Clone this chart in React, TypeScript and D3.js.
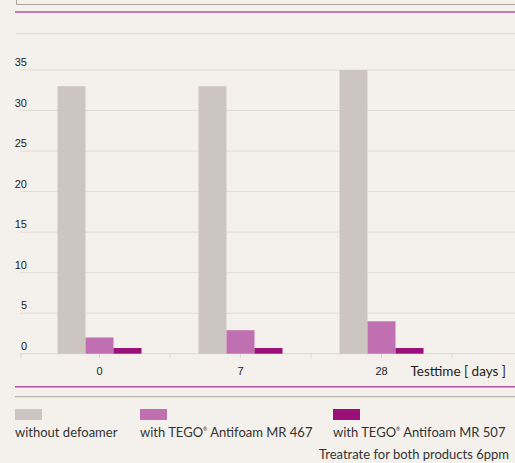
import React, { useEffect, useRef } from 'react';
import * as d3 from 'd3';

const categories = ['0', '7', '28'];
const seriesNames = ['without defoamer', 'with TEGO', 'with TEGO'];
const seriesSuffix = ['', ' Antifoam MR 467', ' Antifoam MR 507'];
const withoutDefoamer = [33, 33, 35];
const mr467 = [2, 2.9, 4];
const mr507 = [0.7, 0.7, 0.7];
const yTicks = [0, 5, 10, 15, 20, 25, 30, 35];
const colors = ['#cdc6c0', '#c070b0', '#9a1078'];

const App: React.FC = () => {
  const svgRef = useRef<SVGSVGElement>(null);

  useEffect(() => {
    if (!svgRef.current) return;
    const svg = d3.select(svgRef.current);
    svg.selectAll('*').remove();
    const W = 515, H = 463;
    const bg = '#f4f1ec';
    svg.append('rect').attr('width', W).attr('height', H).attr('fill', bg);

    const labelFont = '"Liberation Sans", Arial, sans-serif';
    const textFont = 'Lato, "Open Sans", sans-serif';

    // top frame + rules
    svg.append('path').attr('d', 'M16.5,0 V4.5 H515').attr('fill', 'none').attr('stroke', '#aaa39b').attr('stroke-width', 1);
    svg.append('line').attr('x1', 15).attr('x2', W).attr('y1', 12).attr('y2', 12).attr('stroke', '#b84fa5').attr('stroke-width', 1.6);
    svg.append('line').attr('x1', 16).attr('x2', W).attr('y1', 33.7).attr('y2', 33.7).attr('stroke', '#e3e0db').attr('stroke-width', 1.5);

    const y = d3.scaleLinear().domain([0, 35]).range([353.7, 70]);
    const x = d3.scaleBand().domain([...categories, '']).range([29, 593]).paddingInner(0).paddingOuter(0);
    const inner = d3.scaleBand().domain(['0', '1', '2']).range([0, 84]);
    const offset = (x.bandwidth() - 84) / 2;

    // grid
    yTicks.forEach(t => {
      svg.append('line').attr('x1', 20).attr('x2', W).attr('y1', y(t)).attr('y2', y(t))
        .attr('stroke', t === 0 ? '#dcd8d2' : '#e0ddd8').attr('stroke-width', 1);
      svg.append('text').attr('x', 27).attr('y', y(t) - 4).attr('text-anchor', 'end')
        .attr('font-family', labelFont).attr('font-size', 11).attr('fill', '#222').text(t);
    });

    // bars
    const series = [withoutDefoamer, mr467, mr507];
    series.forEach((vals, si) => {
      vals.forEach((v, ci) => {
        const x0 = (x(categories[ci]) ?? 0) + offset + (inner(String(si)) ?? 0);
        svg.append('rect').attr('x', x0).attr('width', inner.bandwidth())
          .attr('y', y(v)).attr('height', y(0) - y(v)).attr('fill', colors[si]);
      });
    });

    // x ticks
    const tickXs = [21, ...categories.map(c => (x(c) ?? 0) + x.bandwidth()), ...categories.map(c => (x(c) ?? 0) + x.bandwidth() / 2)];
    tickXs.forEach(tx => {
      svg.append('line').attr('x1', tx).attr('x2', tx).attr('y1', 354).attr('y2', 358)
        .attr('stroke', '#dcd8d2').attr('stroke-width', 1);
    });
    categories.forEach(c => {
      svg.append('text').attr('x', (x(c) ?? 0) + x.bandwidth() / 2).attr('y', 375).attr('text-anchor', 'middle')
        .attr('font-family', labelFont).attr('font-size', 11).attr('fill', '#222').text(c);
    });
    svg.append('text').attr('x', 506).attr('y', 376).attr('text-anchor', 'end')
      .attr('font-family', textFont).attr('font-size', 13.5).attr('fill', '#222').text('Testtime [ days ]');

    // bottom rules
    svg.append('line').attr('x1', 15).attr('x2', W).attr('y1', 386.7).attr('y2', 386.7).attr('stroke', '#b84fa5').attr('stroke-width', 1.6);
    svg.append('line').attr('x1', 15).attr('x2', W).attr('y1', 396.7).attr('y2', 396.7).attr('stroke', '#aaa39b').attr('stroke-width', 1);

    // legend
    const legX = [15, 140, 333];
    seriesNames.forEach((name, i) => {
      svg.append('rect').attr('x', legX[i]).attr('y', 409).attr('width', 27).attr('height', 11).attr('fill', colors[i]);
      const t = svg.append('text').attr('x', legX[i]).attr('y', 437)
        .attr('font-family', textFont).attr('font-size', 13).attr('fill', '#333');
      t.append('tspan').text(name);
      if (seriesSuffix[i]) {
        t.append('tspan').attr('font-size', 5).attr('dy', -6).text('®');
        t.append('tspan').attr('dy', 6).text(seriesSuffix[i]);
      }
    });
    svg.append('text').attr('x', 509).attr('y', 459).attr('text-anchor', 'end')
      .attr('font-family', textFont).attr('font-size', 13).attr('fill', '#333').text('Treatrate for both products 6ppm');
  }, []);

  return (
    <div style={{ position: 'absolute', left: 0, top: 0, width: 515, height: 463 }}>
      <svg ref={svgRef} width={515} height={463} />
    </div>
  );
};

export default App;
